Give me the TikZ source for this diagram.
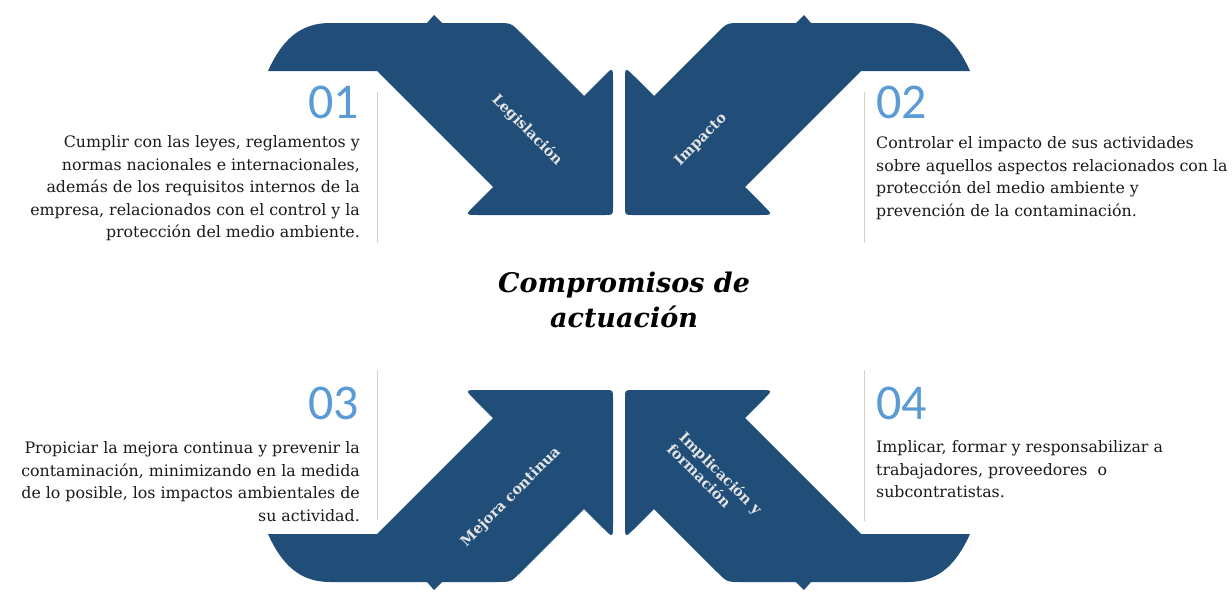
\documentclass[tikz,border=0pt]{standalone}
\usepackage{fontspec}
\setmainfont{DejaVu Serif}
\newfontfamily\numfont{Carlito}
\definecolor{arrowblue}{RGB}{32,78,121}
\definecolor{numblue}{RGB}{91,155,213}
\definecolor{labelgray}{RGB}{228,228,228}
\definecolor{rulegray}{RGB}{214,210,198}
\definecolor{bodytext}{RGB}{26,26,26}
\newcommand\myarrowpath{%
  (268,71) .. controls (282,40) and (300,23) .. (330,23)
  -- (427,23) -- (434,15) -- (442,23)
  -- (497,23) .. controls (511,23) .. (521,33)
  -- (584,96)
  -- (603.1,76.9) .. controls (613,67) .. (613,81)
  -- (613,207) .. controls (613,215) .. (605,215)
  -- (479,215) .. controls (465,215) .. (474.9,205.1)
  -- (493,187) -- (377,71) -- cycle}
\tikzset{
  arrowfill/.style={fill=arrowblue, draw=none},
  num/.style={font=\numfont\fontsize{50}{50}\selectfont, text=numblue, inner sep=0pt},
  body/.style={font=\fontsize{15.8}{22.5}\selectfont, text=bodytext, inner sep=0pt},
  lbl/.style={font=\bfseries\fontsize{14.5}{17}\selectfont, text=labelgray, inner sep=0pt},
  title/.style={font=\bfseries\itshape\fontsize{27}{35.7}\selectfont, inner sep=0pt, align=center},
  rule/.style={draw=rulegray, line width=1pt}
}
\begin{document}
\begin{tikzpicture}[x=1pt,y=-1pt]
\useasboundingbox (0,0) rectangle (1232,595);
\fill[white] (0,0) rectangle (1232,595);
% arrows
\path[arrowfill] \myarrowpath;
\begin{scope}[shift={(1238,0)},xscale=-1] \path[arrowfill] \myarrowpath; \end{scope}
\begin{scope}[shift={(0,605)},yscale=-1] \path[arrowfill] \myarrowpath; \end{scope}
\begin{scope}[shift={(1238,605)},xscale=-1,yscale=-1] \path[arrowfill] \myarrowpath; \end{scope}
% labels
\node[lbl, rotate=-45] (l1) at (527,130) {Legislación};
\node[lbl, rotate=45] (l2) at (701,140) {Impacto};
\node[lbl, rotate=45] (l3) at (511,497) {Mejora continua};
\node[lbl, rotate=-45, align=left] (l4) at (715,479) {Implicación y\\formación};
% rules
\draw[rule] (377.5,92) -- (377.5,243);
\draw[rule] (864,92) -- (864,243);
\draw[rule] (377.5,370) -- (377.5,520);
\draw[rule] (864,370) -- (864,521);
% numbers
\node[num, anchor=base east] (n1) at (359,118.5) {01};
\node[num, anchor=base west] (n2) at (876,118.5) {02};
\node[num, anchor=base east] (n3) at (359,419.5) {03};
\node[num, anchor=base west] (n4) at (876,419.5) {04};
% bodies
\node[body, anchor=north east, align=right] (t1) at (360,131.75) {\strut Cumplir con las leyes, reglamentos y\\normas nacionales e internacionales,\\además de los requisitos internos de la\\empresa, relacionados con el control y la\\protección del medio ambiente.};
\node[body, anchor=north west, align=left] (t2) at (876,132.75) {\strut Controlar el impacto de sus actividades\\sobre aquellos aspectos relacionados con la\\protección del medio ambiente y\\prevención de la contaminación.};
\node[body, anchor=north east, align=right] (t3) at (360,437.75) {\strut Propiciar la mejora continua y prevenir la\\contaminación, minimizando en la medida\\de lo posible, los impactos ambientales de\\su actividad.};
\node[body, anchor=north west, align=left] (t4) at (876,436.75) {\strut Implicar, formar y responsabilizar a\\trabajadores, proveedores~ o\\subcontratistas.};
% title
\node[title] (title) at (624,300) {Compromisos de\\actuación};
\end{tikzpicture}
\end{document}
